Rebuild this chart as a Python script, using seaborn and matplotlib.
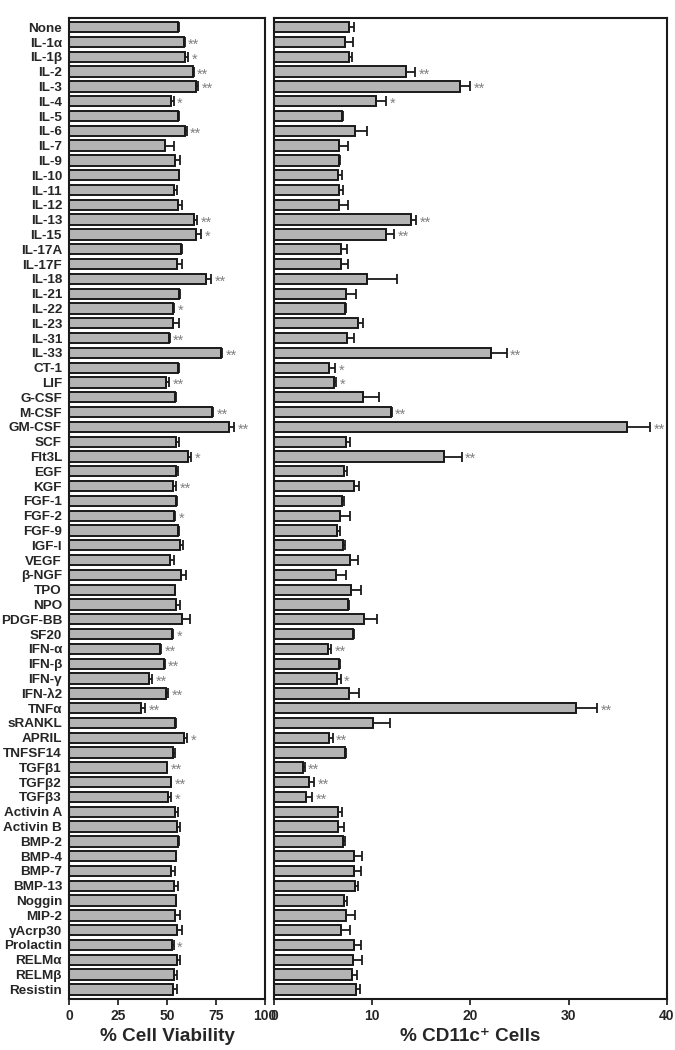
import numpy as np
import pandas as pd
import matplotlib
matplotlib.use("Agg")
import matplotlib.pyplot as plt
import seaborn as sns

# 细胞因子列表（从上到下）
factors = ["None", "IL-1α", "IL-1β", "IL-2", "IL-3", "IL-4", "IL-5", "IL-6", "IL-7", "IL-9",
           "IL-10", "IL-11", "IL-12", "IL-13", "IL-15", "IL-17A", "IL-17F", "IL-18", "IL-21", "IL-22",
           "IL-23", "IL-31", "IL-33", "CT-1", "LIF", "G-CSF", "M-CSF", "GM-CSF", "SCF", "Flt3L",
           "EGF", "KGF", "FGF-1", "FGF-2", "FGF-9", "IGF-I", "VEGF", "β-NGF", "TPO", "NPO",
           "PDGF-BB", "SF20", "IFN-α", "IFN-β", "IFN-γ", "IFN-λ2", "TNFα", "sRANKL", "APRIL", "TNFSF14",
           "TGFβ1", "TGFβ2", "TGFβ3", "Activin A", "Activin B", "BMP-2", "BMP-4", "BMP-7", "BMP-13", "Noggin",
           "MIP-2", "γAcrp30", "Prolactin", "RELMα", "RELMβ", "Resistin"]

# 左图：细胞活力
viability = [55.4, 58.5, 59.3, 63.1, 64.6, 52.2, 55.4, 59.3, 49.1, 54.3,
             56.0, 53.7, 55.4, 63.9, 64.9, 57.1, 55.3, 69.9, 56.0, 53.2,
             53.2, 50.9, 77.7, 55.8, 49.5, 53.9, 73.1, 81.8, 54.8, 60.5,
             54.4, 52.9, 54.6, 53.6, 55.8, 56.5, 51.4, 57.1, 53.9, 54.6,
             57.8, 52.6, 46.4, 48.5, 40.7, 49.5, 36.6, 53.9, 58.8, 52.9,
             49.8, 51.9, 50.7, 54.3, 54.9, 55.6, 54.4, 51.9, 53.6, 54.4,
             53.9, 55.3, 52.6, 55.3, 53.7, 53.2]
viability_err = [0.7, 0.5, 1.5, 0.5, 1.4, 1.2, 0.8, 0.7, 4.6, 2.2,
                 0.3, 1.4, 2.0, 1.5, 2.7, 0.7, 2.4, 2.6, 0.7, 0.5,
                 3.1, 0.5, 0.5, 0.5, 1.5, 0.9, 0.3, 2.4, 1.5, 1.9,
                 1.4, 1.7, 0.5, 0.5, 0.5, 1.5, 2.4, 2.6, 0.3, 2.2,
                 3.7, 0.7, 0.7, 0.3, 1.7, 1.2, 2.4, 0.9, 1.4, 1.4,
                 0.3, 0.3, 1.5, 1.4, 1.9, 0.3, 0.3, 2.0, 2.2, 0.3,
                 2.7, 2.4, 0.8, 1.5, 1.4, 2.0]
viability_sig = ["", "**", "*", "**", "**", "*", "", "**", "", "",
                 "", "", "", "**", "*", "", "", "**", "", "*",
                 "", "**", "**", "", "**", "", "**", "**", "", "*",
                 "", "**", "", "*", "", "", "", "", "", "",
                 "", "*", "**", "**", "**", "**", "**", "", "*", "",
                 "**", "**", "*", "", "", "", "", "", "", "",
                 "", "", "*", "", "", ""]

# 右图：CD11c+ 细胞比例
cd11c = [7.6, 7.2, 7.6, 13.4, 18.9, 10.4, 6.9, 8.3, 6.6, 6.6,
         6.5, 6.6, 6.6, 14.0, 11.4, 6.8, 6.8, 9.46, 7.3, 7.2,
         8.6, 7.4, 22.1, 5.65, 6.16, 9.1, 11.9, 36.0, 7.3, 17.3,
         7.14, 8.1, 6.9, 6.77, 6.46, 7.04, 7.76, 6.3, 7.8, 7.5,
         9.15, 8.06, 5.54, 6.63, 6.43, 7.62, 30.8, 10.1, 5.58, 7.24,
         3.0, 3.54, 3.23, 6.53, 6.53, 7.0, 8.13, 8.13, 8.23, 7.18,
         7.3, 6.84, 8.1, 8.03, 7.93, 8.33]
cd11c_err = [0.6, 0.8, 0.35, 1.0, 1.1, 1.05, 0.1, 1.2, 0.9, 0.1,
             0.45, 0.45, 0.9, 0.45, 0.85, 0.6, 0.75, 3.06, 1.1, 0.14,
             0.5, 0.8, 1.6, 0.6, 0.2, 1.56, 0.1, 2.3, 0.4, 1.8,
             0.3, 0.6, 0.24, 1.0, 0.27, 0.24, 0.78, 1.05, 1.05, 0.17,
             1.33, 0.05, 0.27, 0.1, 0.37, 1.09, 2.1, 1.73, 0.4, 0.1,
             0.14, 0.58, 0.68, 0.4, 0.6, 0.2, 0.85, 0.78, 0.3, 0.27,
             1.0, 0.95, 0.75, 0.92, 0.48, 0.48]
cd11c_sig = ["", "", "", "**", "**", "*", "", "", "", "",
             "", "", "", "**", "**", "", "", "", "", "",
             "", "", "**", "*", "*", "", "**", "**", "", "**",
             "", "", "", "", "", "", "", "", "", "",
             "", "", "**", "", "*", "", "**", "", "**", "",
             "**", "**", "**", "", "", "", "", "", "", "",
             "", "", "", "", "", ""]

sns.set_theme(style="white")
plt.rcParams["font.family"] = ["Liberation Sans", "DejaVu Sans"]
plt.rcParams["font.weight"] = "bold"
plt.rcParams["axes.labelweight"] = "bold"

df = pd.DataFrame({
    "factor": factors,
    "viability": viability, "viability_err": viability_err, "viability_sig": viability_sig,
    "cd11c": cd11c, "cd11c_err": cd11c_err, "cd11c_sig": cd11c_sig,
})

fig = plt.figure(figsize=(6.75, 10.5), dpi=100)
ax1 = fig.add_axes([0.1022, 0.0486, 0.2904, 0.9346])
ax2 = fig.add_axes([0.4059, 0.0486, 0.5818, 0.9346])


def draw_panel(ax, col, xmax, ticks, xlabel):
    sns.barplot(data=df, x=col, y="factor", ax=ax, color="#b4b4b4", saturation=1,
                edgecolor="#1a1a1a", linewidth=1.4, width=0.7, errorbar=None)
    ypos = np.arange(len(df))
    err = df[col + "_err"].values
    ax.errorbar(df[col].values, ypos, xerr=[np.zeros(len(df)), err], fmt="none",
                ecolor="#1a1a1a", elinewidth=1.3, capsize=3.8, capthick=1.3, zorder=3)
    # 显著性标记
    for y, v, e, s in zip(ypos, df[col], err, df[col + "_sig"]):
        if s:
            ax.annotate(s, (v + e, y), xytext=(2.5, -2), textcoords="offset points",
                        ha="left", va="center", color="#808080", fontsize=10.5,
                        fontweight="normal")
    ax.set_xlim(0, xmax)
    ax.set_ylim(len(df) - 0.35, -0.65)
    ax.set_xticks(ticks)
    ax.set_xlabel(xlabel, fontsize=13.6, labelpad=3)
    ax.set_ylabel("")
    ax.tick_params(axis="x", bottom=True, direction="out", length=4, width=1.3,
                   labelsize=10, pad=3.5)
    ax.tick_params(axis="y", left=False, length=0, labelsize=9.7, pad=5)
    for sp in ax.spines.values():
        sp.set_visible(True)
        sp.set_color("#1a1a1a")
        sp.set_linewidth(1.5)


draw_panel(ax1, "viability", 100, [0, 25, 50, 75, 100], "% Cell Viability")
draw_panel(ax2, "cd11c", 40, [0, 10, 20, 30, 40], "% CD11c⁺ Cells")
ax2.set_yticklabels([])

for lab in ax1.get_yticklabels() + ax1.get_xticklabels() + ax2.get_xticklabels():
    lab.set_fontweight("bold")

fig.savefig("out.png", dpi=100)
plt.close(fig)
